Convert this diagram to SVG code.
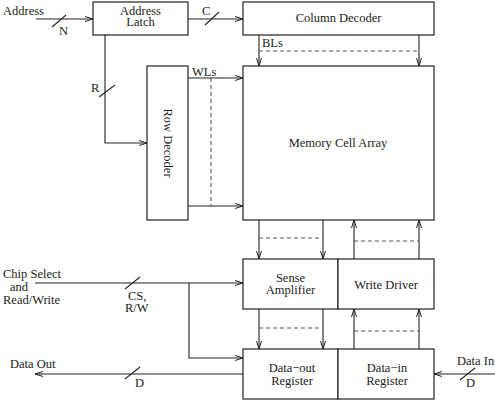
<svg xmlns="http://www.w3.org/2000/svg" width="495" height="404" viewBox="0 0 495 404" font-family="'Liberation Serif', 'DejaVu Serif', serif">
<defs>
<marker id="ah" markerWidth="10" markerHeight="8" refX="9" refY="4" orient="auto" markerUnits="userSpaceOnUse">
<path d="M1,1.5 L9,4 L1,6.5" fill="none" stroke="#222" stroke-width="1"/>
</marker>
</defs>
<style>
.box{fill:#fff;stroke:#222;stroke-width:1.2}
.ln{fill:none;stroke:#222;stroke-width:1.1}
.ar{fill:none;stroke:#222;stroke-width:1.1;marker-end:url(#ah)}
.dash{fill:none;stroke:#555;stroke-width:1.1;stroke-dasharray:4,3}
text{font-family:'Liberation Serif','DejaVu Serif',serif;font-size:12.5px;fill:#222}
.c{text-anchor:middle}
</style>
<rect width="495" height="404" fill="#fff"/>
<g id="connectors">
<line class="ar" x1="36" y1="19" x2="93" y2="19"/>
<line class="ln" x1="52" y1="27" x2="66" y2="15"/>
<line class="ar" x1="188" y1="19" x2="243" y2="19"/>
<line class="ln" x1="205" y1="25" x2="219" y2="12"/>
<polyline class="ar" points="105,35 105,143 147,143"/>
<line class="ln" x1="99" y1="97" x2="115" y2="85"/>
<line class="ar" x1="188" y1="78" x2="243" y2="78"/>
<line class="ar" x1="188" y1="206" x2="243" y2="206"/>
<line class="dash" x1="211" y1="78" x2="211" y2="206"/>
<line class="ar" x1="259" y1="35" x2="259" y2="66"/>
<line class="ar" x1="419" y1="35" x2="419" y2="66"/>
<line class="dash" x1="259" y1="51" x2="419" y2="51"/>
<line class="ar" x1="259" y1="220" x2="259" y2="259"/>
<line class="ar" x1="323" y1="220" x2="323" y2="259"/>
<line class="dash" x1="259" y1="238" x2="323" y2="238"/>
<line class="ar" x1="354" y1="259" x2="354" y2="220"/>
<line class="ar" x1="419" y1="259" x2="419" y2="220"/>
<line class="dash" x1="354" y1="241" x2="419" y2="241"/>
<line class="ar" x1="259" y1="309" x2="259" y2="349"/>
<line class="ar" x1="323" y1="309" x2="323" y2="349"/>
<line class="dash" x1="259" y1="328" x2="323" y2="328"/>
<line class="ar" x1="354" y1="349" x2="354" y2="309"/>
<line class="ar" x1="419" y1="349" x2="419" y2="309"/>
<line class="dash" x1="354" y1="331" x2="419" y2="331"/>
<line class="ar" x1="35" y1="283" x2="243" y2="283"/>
<polyline class="ar" points="189,283 189,358 243,358"/>
<line class="ln" x1="125" y1="289" x2="140" y2="277"/>
<line class="ar" x1="243" y1="374" x2="35" y2="374"/>
<line class="ln" x1="125" y1="379" x2="140" y2="367"/>
<line class="ar" x1="495" y1="374" x2="434" y2="374"/>
<line class="ln" x1="460" y1="380" x2="475" y2="368"/>
</g>
<g id="labels">
<text x="3" y="15">Address</text>
<text x="59" y="35">N</text>
<text x="202" y="15">C</text>
<text x="91" y="92">R</text>
<text x="192" y="76">WLs</text>
<text x="262" y="47">BLs</text>
<text x="3" y="278">Chip Select</text>
<text x="10" y="291">and</text>
<text x="3" y="304">Read/Write</text>
<text x="128" y="300">CS,</text>
<text x="125" y="312">R/W</text>
<text x="10" y="368">Data Out</text>
<text x="135" y="387">D</text>
<text x="457" y="365">Data In</text>
<text x="466" y="387">D</text>
</g>
<g id="address-latch">
<rect class="box" x="93" y="2" width="95" height="33"/>
<text class="c" x="140.5" y="15">Address</text>
<text class="c" x="140.5" y="26">Latch</text>
</g>
<g id="column-decoder">
<rect class="box" x="243" y="2" width="191" height="33"/>
<text class="c" x="338.5" y="22">Column Decoder</text>
</g>
<g id="row-decoder">
<rect class="box" x="147" y="66" width="41" height="154"/>
<text class="c" transform="translate(164,143) rotate(90)">Row Decoder</text>
</g>
<g id="memory-cell-array">
<rect class="box" x="243" y="66" width="191" height="154"/>
<text class="c" x="338" y="147">Memory Cell Array</text>
</g>
<g id="sense-amplifier">
<rect class="box" x="243" y="259" width="95" height="50"/>
<text class="c" x="290.5" y="282">Sense</text>
<text class="c" x="290.5" y="294">Amplifier</text>
</g>
<g id="write-driver">
<rect class="box" x="338" y="259" width="96" height="50"/>
<text class="c" x="386" y="289">Write Driver</text>
</g>
<g id="data-out-register">
<rect class="box" x="243" y="349" width="95" height="50"/>
<text class="c" x="292" y="372">Data−out</text>
<text class="c" x="292" y="385">Register</text>
</g>
<g id="data-in-register">
<rect class="box" x="338" y="349" width="96" height="50"/>
<text class="c" x="387" y="372">Data−in</text>
<text class="c" x="387" y="385">Register</text>
</g>
</svg>
